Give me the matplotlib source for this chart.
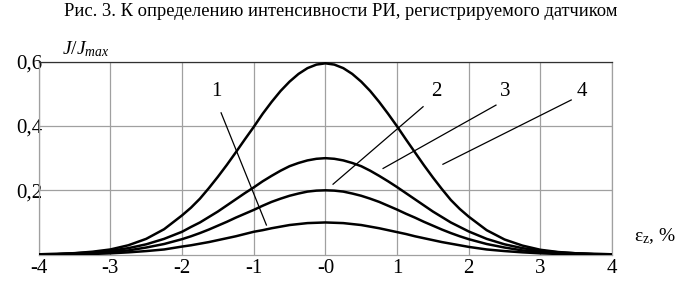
import matplotlib
matplotlib.use("Agg")
import matplotlib.pyplot as plt

plt.rcParams.update({
    "font.family": ["Liberation Serif", "DejaVu Serif"],
    "mathtext.fontset": "custom",
    "mathtext.rm": "Liberation Serif",
    "mathtext.it": "Liberation Serif:italic",
})

# strain, % (finer steps near the peak)
x = [-4.0, -3.75, -3.5, -3.25, -3.0, -2.75, -2.5, -2.25,
     -2.0, -1.875, -1.75, -1.625, -1.5, -1.375, -1.25, -1.125, -1.0,
     -0.875, -0.75, -0.625, -0.5, -0.375, -0.25, -0.125, 0.0,
     0.125, 0.25, 0.375, 0.5, 0.625, 0.75, 0.875, 1.0,
     1.125, 1.25, 1.375, 1.5, 1.625, 1.75, 1.875, 2.0,
     2.25, 2.5, 2.75, 3.0, 3.25, 3.5, 3.75, 4.0]

curve_4 = [0.001, 0.002, 0.0045, 0.009, 0.016, 0.029, 0.049, 0.079,
           0.122, 0.146, 0.174, 0.207, 0.242, 0.279, 0.318, 0.358, 0.397,
           0.438, 0.475, 0.509, 0.538, 0.562, 0.580, 0.591, 0.595,
           0.591, 0.580, 0.562, 0.538, 0.509, 0.475, 0.438, 0.399,
           0.358, 0.318, 0.278, 0.240, 0.204, 0.170, 0.142, 0.118,
           0.076, 0.047, 0.028, 0.015, 0.008, 0.004, 0.002, 0.001]
curve_3 = [0.001, 0.002, 0.004, 0.007, 0.012, 0.020, 0.032, 0.049,
           0.071, 0.086, 0.100, 0.117, 0.134, 0.153, 0.172, 0.191, 0.209,
           0.228, 0.245, 0.261, 0.275, 0.285, 0.293, 0.298, 0.300,
           0.298, 0.293, 0.285, 0.275, 0.261, 0.245, 0.228, 0.210,
           0.191, 0.172, 0.153, 0.134, 0.117, 0.100, 0.086, 0.072,
           0.049, 0.032, 0.020, 0.012, 0.007, 0.004, 0.002, 0.001]
curve_2 = [0.001, 0.001, 0.003, 0.005, 0.008, 0.013, 0.022, 0.033,
           0.048, 0.057, 0.067, 0.078, 0.090, 0.102, 0.115, 0.127, 0.139,
           0.152, 0.164, 0.174, 0.183, 0.190, 0.196, 0.199, 0.200,
           0.199, 0.196, 0.190, 0.183, 0.174, 0.164, 0.152, 0.140,
           0.127, 0.115, 0.102, 0.090, 0.078, 0.067, 0.057, 0.048,
           0.033, 0.022, 0.013, 0.008, 0.005, 0.003, 0.001, 0.001]
curve_1 = [0.000, 0.001, 0.001, 0.002, 0.004, 0.007, 0.011, 0.016,
           0.025, 0.029, 0.034, 0.039, 0.045, 0.051, 0.057, 0.064, 0.071,
           0.076, 0.082, 0.087, 0.092, 0.095, 0.098, 0.099, 0.100,
           0.099, 0.098, 0.095, 0.092, 0.087, 0.082, 0.076, 0.070,
           0.064, 0.057, 0.051, 0.045, 0.039, 0.034, 0.029, 0.024,
           0.016, 0.011, 0.007, 0.004, 0.002, 0.001, 0.001, 0.000]

# leader labels: (text, label x, label y, line start x, y, line end x, y)
leaders = [
    ("1", -1.52, 0.507, -1.455, 0.441, -0.823, 0.092),
    ("2", 1.55, 0.507, 1.363, 0.460, 0.107, 0.219),
    ("3", 2.51, 0.507, 2.38, 0.465, 0.805, 0.268),
    ("4", 3.58, 0.507, 3.43, 0.481, 1.64, 0.281),
]

xticks = [-4, -3, -2, -1, 0, 1, 2, 3, 4]
xtick_labels = ["-4", "-3", "-2", "-1", "-0", "1", "2", "3", "4"]
yticks = [0.2, 0.4, 0.6]
ytick_labels = ["0,2", "0,4", "0,6"]

fig = plt.figure(figsize=(6.81, 2.84), dpi=100)
ax = fig.add_axes([0.0568, 0.1035, 0.8420, 0.6792])

for y in (curve_1, curve_2, curve_3, curve_4):
    ax.plot(x, y, color="black", linewidth=1.8, solid_capstyle="round",
            solid_joinstyle="round", zorder=3)

for label, tx, ty, x0, y0, x1, y1 in leaders:
    ax.plot([x0, x1], [y0, y1], color="black", linewidth=0.9, zorder=3)
    ax.text(tx, ty, label, fontsize=15, ha="center", va="center")

ax.set_xlim(-4, 4)
ax.set_ylim(0, 0.6)
ax.set_xticks(xticks)
ax.set_xticklabels(xtick_labels)
ax.set_yticks(yticks)
ax.set_yticklabels(ytick_labels)
ax.tick_params(axis="both", length=0, labelsize=15)
ax.tick_params(axis="x", pad=3)
ax.tick_params(axis="y", pad=-3)
ax.grid(True, color="#a0a0a0", linewidth=0.9)
for side in ("left", "right", "bottom"):
    ax.spines[side].set_color("#a0a0a0")
    ax.spines[side].set_linewidth(0.9)
ax.spines["top"].set_color("#303030")
ax.spines["top"].set_linewidth(0.9)

ax.text(-3.67, 0.624, r"$J/J_{max}$", fontsize=14, ha="left", va="baseline")
ax.text(4.3, 0.058, r"$\mathrm{\varepsilon_z}$, %", fontsize=14, ha="left", va="center")

fig.text(0.5, 0.958, "Рис. 3. К определению интенсивности РИ, регистрируемого датчиком",
         ha="center", va="center", fontsize=13.3)

fig.savefig("out.png", dpi=100)
